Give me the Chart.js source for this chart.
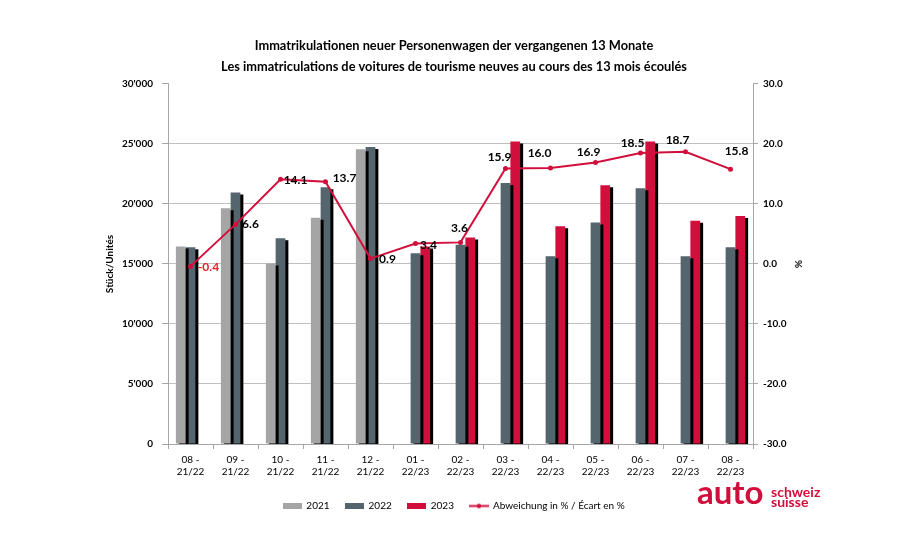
<!DOCTYPE html>
<html>
<head>
<meta charset="utf-8">
<script src="https://cdn.jsdelivr.net/npm/chart.js@4"></script>
<style>
  html, body { margin: 0; padding: 0; background: #fff; }
  #wrap { position: relative; width: 920px; height: 550px; }
</style>
</head>
<body>
<div id="wrap"><canvas id="chart" width="920" height="550"></canvas></div>
<script>
const months = [
  ["08 -", "21/22"], ["09 -", "21/22"], ["10 -", "21/22"], ["11 -", "21/22"], ["12 -", "21/22"],
  ["01 -", "22/23"], ["02 -", "22/23"], ["03 -", "22/23"], ["04 -", "22/23"], ["05 -", "22/23"],
  ["06 -", "22/23"], ["07 -", "22/23"], ["08 -", "22/23"],
];
const units2021 = [16450, 19650, 15050, 18850, 24550, null, null, null, null, null, null, null, null];
const units2022 = [16400, 20950, 17150, 21400, 24750, 15900, 16600, 21750, 15650, 18450, 21300, 15650, 16400];
const units2023 = [null, null, null, null, null, 16450, 17200, 25200, 18150, 21550, 25200, 18600, 19000];
const changePct = [-0.4, 6.6, 14.1, 13.7, 0.9, 3.4, 3.6, 15.9, 16.0, 16.9, 18.5, 18.7, 15.8];

// where each % label sits relative to its point
const labelShift = [[18, 1], [15, 0], [15, 1], [19, -4], [17, 1], [13, 2], [-1, -14],
  [-6, -11], [-11, -15], [-7, -10], [-8, -10], [-8, -12], [6, -18]];

const RED = "#D20F3C";
const FONT = "Lato";

function boxIcon(color, w, h) {
  const c = document.createElement("canvas");
  c.width = w; c.height = h;
  const g = c.getContext("2d");
  g.fillStyle = color;
  g.fillRect(0, 0, w, h);
  return c;
}
function lineIcon() {
  const c = document.createElement("canvas");
  c.width = 20; c.height = 7;
  const g = c.getContext("2d");
  g.strokeStyle = RED; g.lineWidth = 2;
  g.beginPath(); g.moveTo(0, 3.5); g.lineTo(20, 3.5); g.stroke();
  g.fillStyle = RED;
  g.beginPath(); g.arc(10, 3.5, 2.2, 0, Math.PI * 2); g.fill();
  return c;
}

const barShadow = {
  id: "barShadow",
  beforeDatasetDraw(chart, args) {
    if (args.meta.type !== "bar") return;
    const ctx = chart.ctx;
    ctx.save();
    ctx.shadowColor = "#000";
    ctx.shadowOffsetX = 3;
    ctx.shadowOffsetY = 2;
    ctx.shadowBlur = 0;
  },
  afterDatasetDraw(chart, args) {
    if (args.meta.type === "bar") chart.ctx.restore();
  },
};

const pctLabels = {
  id: "pctLabels",
  afterDatasetsDraw(chart) {
    const meta = chart.getDatasetMeta(3);
    const ctx = chart.ctx;
    ctx.save();
    ctx.font = `bold 12px ${FONT}`;
    ctx.textAlign = "center";
    ctx.textBaseline = "middle";
    meta.data.forEach((pt, i) => {
      const v = changePct[i];
      ctx.fillStyle = v < 0 ? "#E8202A" : "#000";
      ctx.fillText(v.toFixed(1), pt.x + labelShift[i][0], pt.y + labelShift[i][1]);
    });
    ctx.restore();
  },
};

const logo = {
  id: "logo",
  afterDraw(chart) {
    const ctx = chart.ctx;
    ctx.save();
    ctx.fillStyle = RED;
    ctx.textBaseline = "alphabetic";
    ctx.textAlign = "left";
    ctx.font = `bold 33px ${FONT}`;
    ctx.fillText("auto", 697, 504);
    ctx.font = `bold 14px ${FONT}`;
    ctx.fillText("schweiz", 771, 497);
    ctx.fillText("suisse", 771, 507);
    ctx.restore();
  },
};

const ctx = document.getElementById("chart");
new Chart(ctx, {
  type: "bar",
  data: {
    labels: months,
    datasets: [
      { label: "2021", data: units2021, backgroundColor: "#A5A5A5", yAxisID: "y", order: 1 },
      { label: "2022", data: units2022, backgroundColor: "#55656E", yAxisID: "y", order: 1 },
      { label: "2023", data: units2023, backgroundColor: RED, yAxisID: "y", order: 1 },
      {
        type: "line",
        label: "Abweichung in % / Écart en %",
        data: changePct,
        yAxisID: "y1",
        order: 0,
        borderColor: RED,
        backgroundColor: RED,
        borderWidth: 2,
        pointRadius: 2.5,
        pointBackgroundColor: RED,
        pointBorderWidth: 0,
        tension: 0,
      },
    ],
  },
  options: {
    responsive: false,
    animation: false,
    datasets: { bar: { barPercentage: 1, categoryPercentage: 0.65 } },
    layout: { padding: { left: 100, right: 112, top: 0, bottom: 29 } },
    plugins: {
      tooltip: { enabled: false },
      title: {
        display: true,
        text: [
          "Immatrikulationen neuer Personenwagen der vergangenen 13 Monate",
          "Les immatriculations de voitures de tourisme neuves au cours des 13 mois écoulés",
        ],
        color: "#000",
        font: { family: FONT, size: 12.8, weight: "bold", lineHeight: 1.6 },
        padding: { top: 36, bottom: 7 },
      },
      legend: {
        position: "bottom",
        labels: {
          sort: (a, b) => a.datasetIndex - b.datasetIndex,
          color: "#000",
          font: { family: FONT, size: 10 },
          usePointStyle: true,
          pointStyleWidth: 18,
          padding: 16,
          generateLabels(chart) {
            const icons = [boxIcon("#A5A5A5", 19, 6), boxIcon("#55656E", 19, 6), boxIcon(RED, 19, 6), lineIcon()];
            return chart.data.datasets.map((ds, i) => ({
              text: ds.label,
              pointStyle: icons[i],
              fillStyle: "transparent",
              strokeStyle: "transparent",
              lineWidth: 0,
              fontColor: "#000",
              datasetIndex: i,
            }));
          },
        },
      },
    },
    scales: {
      x: {
        afterFit(s) { s.height = 41; },
        grid: { drawOnChartArea: false, tickLength: 5, color: "#A6A6A6" },
        border: { color: "#A6A6A6" },
        ticks: { color: "#000", font: { family: FONT, size: 10 }, padding: 5, maxRotation: 0, autoSkip: false },
      },
      y: {
        position: "left",
        min: 0,
        max: 30000,
        afterFit(s) { s.width = 68; },
        ticks: {
          stepSize: 5000,
          color: "#000",
          padding: 9,
          font: { family: FONT, size: 10, weight: "bold" },
          callback: (v) => String(v).replace(/\B(?=(\d{3})+(?!\d))/g, "'"),
        },
        grid: {
          tickLength: 6,
          color: (c) => (c.tick && c.tick.value === 30000 ? "rgba(0,0,0,0)" : "#BFBFBF"),
          tickColor: "#A6A6A6",
        },
        border: { color: "#A6A6A6" },
        title: { display: true, text: "Stück/Unités", color: "#000", font: { family: FONT, size: 10, weight: "bold" } },
      },
      y1: {
        position: "right",
        min: -30,
        max: 30,
        afterFit(s) { s.width = 55; },
        ticks: {
          stepSize: 10,
          color: "#000",
          padding: 5,
          font: { family: FONT, size: 10, weight: "bold" },
          callback: (v) => v.toFixed(1),
        },
        grid: { drawOnChartArea: false, tickLength: 5, color: "#A6A6A6" },
        border: { color: "#A6A6A6" },
        title: { display: true, text: "%", color: "#000", font: { family: FONT, size: 10, weight: "bold" } },
      },
    },
  },
  plugins: [barShadow, pctLabels, logo],
});
</script>
</body>
</html>
